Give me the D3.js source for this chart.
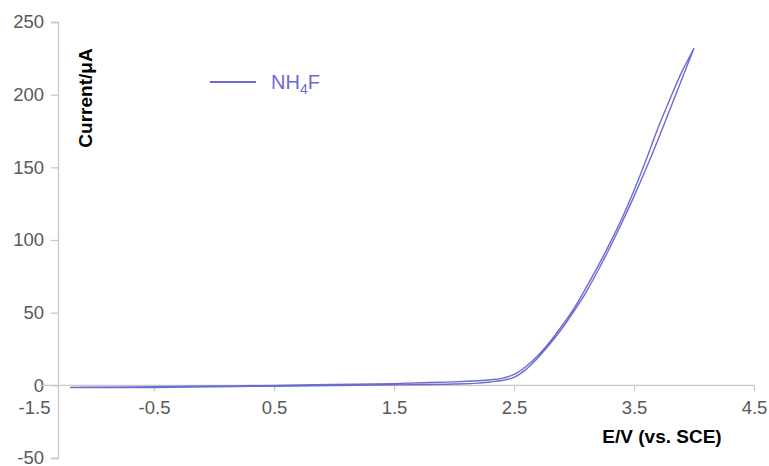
<!DOCTYPE html>
<html>
<head>
<meta charset="utf-8">
<script src="https://cdn.jsdelivr.net/npm/d3@7/dist/d3.min.js"></script>
<style>
  html, body { margin: 0; padding: 0; background: #fff; }
  svg { display: block; font-family: "Liberation Sans", Arial, sans-serif; }
</style>
</head>
<body>
<svg id="chart" width="769" height="466"></svg>
<script>
// 正向扫描 (E 增加)
const forwardE = [-1.2, -1.0, -0.5, 0, 0.5, 1.0, 1.5, 1.8, 2.0, 2.2, 2.3, 2.4, 2.5, 2.6, 2.7, 2.8, 2.9, 3.0, 3.1, 3.2, 3.3, 3.4, 3.5, 3.6, 3.7, 3.8, 3.9, 4.0];
const forwardI = [-1.6, -1.6, -1.5, -1.0, -0.6, -0.2, 0.3, 0.6, 0.9, 1.5, 2.3, 3.3, 5.5, 11.0, 19, 28.5, 39, 51, 64, 79, 95, 112, 130, 149, 169, 190, 211, 232];

// 反向扫描 (E 减少)
const reverseE = [4.0, 3.95, 3.9, 3.8, 3.7, 3.6, 3.5, 3.4, 3.3, 3.2, 3.1, 3.0, 2.9, 2.8, 2.7, 2.6, 2.5, 2.4, 2.3, 2.2, 2.0, 1.8, 1.5, 1.0, 0.5, 0, -0.5, -1.0, -1.2];
const reverseI = [232, 224, 216, 197, 177, 155, 134, 115, 98, 82, 67, 53, 41, 30, 20.5, 13, 7.5, 4.8, 3.8, 3.2, 2.4, 1.9, 1.2, 0.6, 0.0, -0.5, -1.0, -1.3, -1.4];

// 坐标轴刻度
const xTicks = [-1.5, -0.5, 0.5, 1.5, 2.5, 3.5, 4.5];
const yTicks = [-50, 0, 50, 100, 150, 200, 250];
const yAxisCross = -1.3;

const seriesName = 'NH4F';
const lineColor = '#6b6bd2';
const axisColor = '#c8c8c8';
const labelColor = '#595959';

// 用普通连字符代替 d3 的 U+2212 负号
const fmtX = d => d3.format('.1f')(d).replace('\u2212', '-');
const fmtY = d => d3.format('d')(d).replace('\u2212', '-');

const svg = d3.select('#chart');

const x = d3.scaleLinear().domain([-1.5, 4.5]).range([34, 754]);
const y = d3.scaleLinear().domain([-50, 250]).range([458, 22]);

// 坐标轴
const axisLayer = svg.append('g').attr('class', 'axes');

// 纵轴
const yAxis = axisLayer.append('g')
    .attr('transform', `translate(${x(yAxisCross)},0)`)
    .call(d3.axisLeft(y).tickValues(yTicks).tickSize(7).tickPadding(7).tickFormat(fmtY));
yAxis.select('.domain').attr('stroke', axisColor).attr('stroke-width', 1.3);
yAxis.selectAll('.tick line').attr('stroke', axisColor).attr('stroke-width', 1.3);
yAxis.selectAll('.tick text')
    .attr('fill', labelColor)
    .style('font-size', '18.5px')
    .style('font-family', '"Liberation Sans", Arial, sans-serif');

// 横轴
const xAxis = axisLayer.append('g')
    .attr('transform', `translate(0,${y(0)})`)
    .call(d3.axisBottom(x).tickValues(xTicks).tickSize(6).tickPadding(10).tickSizeOuter(0).tickFormat(fmtX));
xAxis.select('.domain').remove();
xAxis.append('line')
    .attr('x1', x(-1.45)).attr('x2', x(4.5))
    .attr('stroke', axisColor).attr('stroke-width', 1.3);
xAxis.selectAll('.tick line')
    .attr('stroke', axisColor).attr('stroke-width', 1.3)
    .attr('opacity', d => d === -1.5 ? 0 : 1);
xAxis.selectAll('.tick text')
    .attr('fill', labelColor)
    .style('font-size', '18.5px')
    .style('font-family', '"Liberation Sans", Arial, sans-serif');

// 轴标题
svg.append('text')
    .attr('transform', `translate(92,98) rotate(-90)`)
    .attr('text-anchor', 'middle')
    .attr('font-weight', 'bold')
    .attr('font-size', 19)
    .attr('fill', '#000')
    .text('Current/μA');

svg.append('text')
    .attr('x', 662)
    .attr('y', 443)
    .attr('text-anchor', 'middle')
    .attr('font-weight', 'bold')
    .attr('font-size', 19)
    .attr('fill', '#000')
    .text('E/V (vs. SCE)');

// 曲线数据
const points = forwardE.map((e, i) => [e, forwardI[i]])
    .concat(reverseE.map((e, i) => [e, reverseI[i]]));

const line = d3.line()
    .x(d => x(d[0]))
    .y(d => y(d[1]))
    .curve(d3.curveCatmullRom.alpha(0.5));

svg.append('path')
    .datum(points)
    .attr('fill', 'none')
    .attr('stroke', lineColor)
    .attr('stroke-width', 1.4)
    .attr('d', line);

// 图例
const legend = svg.append('g').attr('class', 'legend');
legend.append('line')
    .attr('x1', 210).attr('x2', 256)
    .attr('y1', 82).attr('y2', 82)
    .attr('stroke', lineColor)
    .attr('stroke-width', 2);
const legendText = legend.append('text')
    .attr('x', 271)
    .attr('y', 89)
    .attr('font-size', 20)
    .attr('fill', lineColor);
legendText.append('tspan').text(seriesName.slice(0, 2));
legendText.append('tspan').attr('font-size', 14).attr('dy', 5).text(seriesName.slice(2, 3));
legendText.append('tspan').attr('dy', -5).text(seriesName.slice(3));
</script>
</body>
</html>
